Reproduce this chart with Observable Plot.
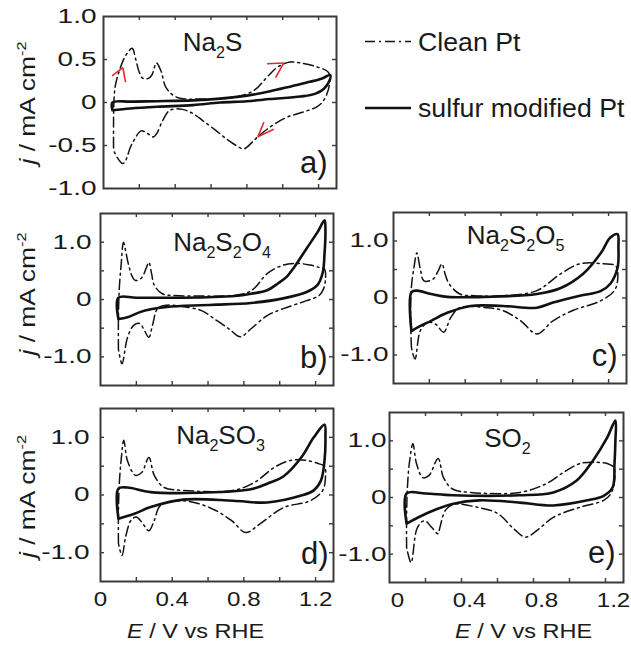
<!DOCTYPE html>
<html>
<head>
<meta charset="utf-8">
<script src="https://cdn.jsdelivr.net/npm/d3@7"></script>
<script src="https://cdn.jsdelivr.net/npm/@observablehq/plot@0.6"></script>
<style>
  body { margin: 0; background: #fff; }
  #fig { position: relative; width: 631px; height: 648px; overflow: hidden; background: #fff;
         font-family: "Liberation Sans", Arial, sans-serif; color: #1a1a1a; }
</style>
</head>
<body>
<div id="fig"></div>
<script>
// ---------------- data ----------------
const xTicks = [0.2, 0.4, 0.6, 0.8, 1.0, 1.2];
const xTickLabels = [0, 0.4, 0.8, 1.2];
const yTicksA = [-0.5, 0, 0.5];
const yLabelsA = [-1, -0.5, 0, 0.5, 1];
const yTicksB = [-1, -0.5, 0, 0.5, 1];
const yLabelsB = [-1, 0, 1];
const seriesNames = ["Clean Pt", "sulfur modified Pt"];
const panelTitles = ["Na_{2}S", "Na_{2}S_{2}O_{4}", "Na_{2}S_{2}O_{5}", "Na_{2}SO_{3}", "SO_{2}"];
const panelLetters = ["a)", "b)", "c)", "d)", "e)"];
const xTitle = "*E* / V vs RHE";
const yTitle = "*j* / mA cm^{-2}";

// panel a (Na2S) [E, j]
const cleanA = [[0.056,-0.52],[0.056,-0.25],[0.058,0.0],[0.064,0.17],[0.078,0.30],[0.11,0.49],[0.135,0.58],[0.16,0.63],[0.18,0.50],[0.20,0.35],[0.22,0.28],[0.25,0.28],[0.27,0.32],[0.295,0.46],[0.32,0.37],[0.35,0.17],[0.41,0.06],[0.54,0.04],[0.73,0.06],[0.84,0.14],[0.91,0.29],[0.97,0.41],[1.04,0.47],[1.10,0.46],[1.18,0.42],[1.255,0.35],[1.26,0.2],[1.23,0.03],[1.19,-0.05],[1.10,-0.12],[1.025,-0.17],[0.94,-0.27],[0.86,-0.40],[0.80,-0.52],[0.78,-0.54],[0.74,-0.50],[0.69,-0.43],[0.63,-0.33],[0.56,-0.22],[0.50,-0.13],[0.44,-0.08],[0.37,-0.09],[0.33,-0.21],[0.30,-0.35],[0.28,-0.40],[0.245,-0.36],[0.21,-0.33],[0.17,-0.44],[0.15,-0.52],[0.12,-0.69],[0.106,-0.71],[0.08,-0.65],[0.06,-0.57],[0.056,-0.52]];
const sulfA = [[0.05,-0.09],[0.05,0.0],[0.15,0.01],[0.3,0.015],[0.5,0.025],[0.65,0.045],[0.8,0.08],[0.93,0.13],[1.05,0.19],[1.15,0.24],[1.22,0.28],[1.265,0.32],[1.26,0.25],[1.23,0.16],[1.18,0.1],[1.1,0.07],[0.93,0.04],[0.8,0.015],[0.65,0.0],[0.5,-0.03],[0.3,-0.05],[0.15,-0.07],[0.05,-0.09]];
const arrowTipsA = [[0.108,0.406],[1.006,0.46],[0.861,-0.40]];
const arrowLegEndsA = [[[0.048,0.31],[0.123,0.236]],[[0.913,0.45],[0.96,0.29]],[[0.95,-0.31],[0.895,-0.23]]];

// panel b (Na2S2O4)
const cleanB = [[0.10,-0.87],[0.10,-0.3],[0.105,0.2],[0.115,0.6],[0.128,1.0],[0.14,0.85],[0.157,0.6],[0.18,0.38],[0.195,0.33],[0.23,0.38],[0.255,0.55],[0.27,0.65],[0.285,0.45],[0.30,0.25],[0.345,0.10],[0.41,0.07],[0.55,0.06],[0.74,0.07],[0.82,0.12],[0.86,0.20],[0.93,0.45],[1.02,0.60],[1.10,0.63],[1.17,0.60],[1.22,0.56],[1.25,0.53],[1.255,0.35],[1.245,0.19],[1.22,0.07],[1.15,-0.02],[1.02,-0.16],[0.93,-0.28],[0.84,-0.51],[0.78,-0.65],[0.72,-0.52],[0.65,-0.37],[0.56,-0.19],[0.45,-0.12],[0.37,-0.10],[0.32,-0.15],[0.29,-0.45],[0.27,-0.66],[0.24,-0.51],[0.22,-0.42],[0.185,-0.45],[0.15,-0.67],[0.12,-1.12],[0.10,-0.87]];
const sulfB = [[0.10,-0.34],[0.10,0.03],[0.2,0.03],[0.4,0.03],[0.6,0.04],[0.75,0.06],[0.84,0.10],[0.93,0.16],[0.99,0.28],[1.04,0.40],[1.08,0.56],[1.15,0.89],[1.21,1.17],[1.25,1.38],[1.255,1.2],[1.25,0.8],[1.24,0.47],[1.21,0.25],[1.15,0.13],[1.02,0.02],[0.84,-0.06],[0.65,-0.09],[0.56,-0.10],[0.37,-0.13],[0.28,-0.17],[0.22,-0.22],[0.15,-0.31],[0.10,-0.34]];

// panel c (Na2S2O5)
const cleanC = [[0.10,-0.87],[0.095,-0.3],[0.10,0.2],[0.115,0.55],[0.13,0.79],[0.15,0.5],[0.17,0.30],[0.22,0.33],[0.25,0.48],[0.27,0.60],[0.29,0.40],[0.31,0.25],[0.37,0.07],[0.45,0.04],[0.61,0.04],[0.80,0.13],[0.93,0.42],[1.04,0.60],[1.17,0.60],[1.24,0.56],[1.25,0.3],[1.23,0.12],[1.155,-0.05],[1.0,-0.22],[0.89,-0.40],[0.80,-0.63],[0.71,-0.40],[0.61,-0.22],[0.52,-0.17],[0.37,-0.17],[0.32,-0.34],[0.28,-0.60],[0.235,-0.46],[0.19,-0.43],[0.15,-0.57],[0.12,-1.07],[0.10,-0.87]];
const sulfC = [[0.10,-0.58],[0.10,0.10],[0.13,0.13],[0.21,0.07],[0.30,0.02],[0.52,0.02],[0.80,0.07],[0.93,0.17],[1.06,0.43],[1.155,0.78],[1.21,1.06],[1.25,1.12],[1.255,0.9],[1.25,0.53],[1.21,0.25],[1.155,0.12],[1.04,0.04],[0.89,-0.08],[0.80,-0.17],[0.61,-0.14],[0.43,-0.14],[0.30,-0.26],[0.21,-0.40],[0.15,-0.49],[0.10,-0.58]];

// panel d (Na2SO3)
const cleanD = [[0.10,-0.84],[0.10,-0.3],[0.105,0.2],[0.115,0.6],[0.13,0.95],[0.15,0.6],[0.195,0.34],[0.23,0.39],[0.27,0.65],[0.30,0.34],[0.355,0.13],[0.46,0.08],[0.74,0.08],[0.86,0.22],[0.97,0.48],[1.06,0.60],[1.15,0.60],[1.22,0.54],[1.25,0.50],[1.255,0.3],[1.24,0.08],[1.17,-0.10],[1.02,-0.22],[0.89,-0.50],[0.81,-0.65],[0.73,-0.44],[0.61,-0.22],[0.46,-0.10],[0.335,-0.18],[0.30,-0.44],[0.27,-0.62],[0.23,-0.47],[0.20,-0.38],[0.17,-0.44],[0.14,-0.73],[0.12,-1.05],[0.10,-0.84]];
const sulfD = [[0.10,-0.41],[0.10,0.11],[0.15,0.13],[0.28,0.05],[0.56,0.04],[0.84,0.10],[0.95,0.22],[1.02,0.32],[1.12,0.65],[1.19,1.0],[1.25,1.22],[1.255,1.0],[1.25,0.6],[1.23,0.25],[1.19,0.08],[1.12,-0.01],[0.93,-0.13],[0.74,-0.10],[0.46,-0.08],[0.28,-0.21],[0.185,-0.33],[0.10,-0.41]];

// panel e (SO2)
const cleanE = [[0.095,-0.88],[0.095,-0.3],[0.10,0.2],[0.11,0.6],[0.13,0.95],[0.15,0.6],[0.185,0.35],[0.22,0.39],[0.27,0.69],[0.30,0.35],[0.35,0.15],[0.45,0.09],[0.725,0.09],[0.875,0.25],[0.97,0.45],[1.06,0.60],[1.155,0.62],[1.21,0.60],[1.245,0.53],[1.25,0.3],[1.23,0.07],[1.19,-0.05],[1.06,-0.17],[0.91,-0.35],[0.82,-0.58],[0.755,-0.70],[0.69,-0.55],[0.60,-0.28],[0.485,-0.17],[0.355,-0.12],[0.31,-0.23],[0.28,-0.53],[0.27,-0.64],[0.235,-0.53],[0.195,-0.41],[0.155,-0.53],[0.12,-1.15],[0.095,-0.88]];
const sulfE = [[0.095,-0.46],[0.095,0.07],[0.2,0.07],[0.35,0.04],[0.72,0.04],[0.91,0.09],[1.04,0.30],[1.13,0.65],[1.21,1.06],[1.255,1.36],[1.255,1.0],[1.25,0.6],[1.24,0.18],[1.19,0.03],[1.10,-0.05],[0.91,-0.14],[0.725,-0.09],[0.50,-0.05],[0.355,-0.11],[0.22,-0.26],[0.095,-0.46]];

// ---------------- drawing ----------------
const FONT = '"Liberation Sans", Arial, sans-serif';
const INK = "#111";
const FRAME = "#3a3a3a";
const RED = "#e3262d";
const DASHDOT = "10,4,2,4";
const fig = document.getElementById("fig");

const fmt = d => d === 0 ? "0" : d.toFixed(1);

function stretchX(node, sx) {
  const tr = node.getAttribute("transform") || "";
  const x = parseFloat(node.getAttribute("x")) || 0;
  node.setAttribute("transform", `${tr} translate(${x},0) scale(${sx},1) translate(${-x},0)`);
}

function richify(t, base) {
  const s = t.textContent;
  while (t.firstChild) t.removeChild(t.firstChild);
  const re = /(_\{[^}]*\}|\^\{[^}]*\}|\*[^*]*\*)/;
  let shift = 0;
  for (const part of s.split(re)) {
    if (!part) continue;
    const ts = document.createElementNS("http://www.w3.org/2000/svg", "tspan");
    let target = 0, txt = part;
    if (part.startsWith("_{")) { target = base * 0.28; txt = part.slice(2, -1); ts.setAttribute("font-size", base * 0.62); }
    else if (part.startsWith("^{")) { target = -base * 0.4; txt = part.slice(2, -1); ts.setAttribute("font-size", base * 0.62); }
    else if (part.startsWith("*")) { txt = part.slice(1, -1); ts.setAttribute("font-style", "italic"); }
    if (target !== shift) { ts.setAttribute("dy", target - shift); shift = target; }
    ts.textContent = txt;
    t.appendChild(ts);
  }
}

function makePanel(p) {
  const pw = p.width - p.mL - p.mR, ph = p.height - p.mT - p.mB;
  const TL = 4;
  const tk = {stroke: FRAME, strokeWidth: 1.4};
  const marks = [
    Plot.ruleX(xTicks, {x: d => d, insetTop: ph - TL, ...tk}),
    Plot.ruleX(xTicks, {x: d => d, insetBottom: ph - TL, ...tk}),
    Plot.ruleY(p.yTicks, {y: d => d, insetRight: pw - TL, ...tk}),
    Plot.ruleY(p.yTicks, {y: d => d, insetLeft: pw - TL, ...tk}),
    Plot.line(p.clean, {x: d => d[0], y: d => d[1], curve: "catmull-rom", stroke: INK, strokeWidth: 1.5, strokeDasharray: DASHDOT}),
    Plot.line(p.sulf, {x: d => d[0], y: d => d[1], curve: "catmull-rom", stroke: INK, strokeWidth: 2.6}),
    Plot.frame({stroke: FRAME, strokeWidth: 2}),
    Plot.axisY({ticks: p.yLabels, tickSize: 0, tickPadding: p.yPad, tickFormat: fmt, fontSize: 20, label: null, fill: "#1a1a1a"}),
    Plot.text([p.title], {text: d => d, frameAnchor: "top", textAnchor: "middle", lineAnchor: "top",
      dx: p.titleDx, dy: p.titleDy, fontSize: 26, fill: "#1a1a1a"}),
    Plot.text([p.letter], {text: d => d, frameAnchor: "bottom-right", textAnchor: "end", lineAnchor: "top",
      dx: p.letterDx, dy: p.letterDy, fontSize: 31, fill: "#1a1a1a"})
  ];
  if (p.arrows) {
    const links = [];
    p.arrows.tips.forEach((tip, i) => p.arrows.legs[i].forEach(e => links.push({x1: tip[0], y1: tip[1], x2: e[0], y2: e[1]})));
    marks.push(Plot.link(links, {x1: "x1", y1: "y1", x2: "x2", y2: "y2", stroke: RED, strokeWidth: 1.6}));
  }
  if (p.yTitle) {
    marks.push(Plot.text([yTitle], {text: d => d, frameAnchor: "left", rotate: -90, textAnchor: "middle", lineAnchor: "middle",
      dx: p.yTitleDx, dy: p.yTitleDy, fontSize: 22, fill: "#1a1a1a"}));
  }
  if (p.xLabels) {
    marks.push(Plot.axisX({ticks: xTickLabels, tickSize: 0, tickPadding: 10, tickFormat: fmt, fontSize: 21, label: null, dx: p.xdx, fill: "#1a1a1a"}));
    marks.push(Plot.text([xTitle], {text: d => d, frameAnchor: "bottom", textAnchor: "middle", lineAnchor: "middle",
      dx: p.xTitleDx, dy: p.xTitleDy, fontSize: 21, fill: "#1a1a1a"}));
  }
  const svg = Plot.plot({
    width: p.width, height: p.height,
    marginLeft: p.mL, marginRight: p.mR, marginTop: p.mT, marginBottom: p.mB,
    x: {domain: [0, 1.3], ...(p.xLabels ? {} : {axis: null})},
    y: {domain: p.yDomain},
    style: {fontFamily: FONT, background: "transparent", overflow: "visible", position: "absolute",
            left: p.left + "px", top: p.top + "px", maxWidth: "none"},
    marks
  });
  svg.querySelectorAll('g[aria-label="y-axis tick label"] text').forEach(t => stretchX(t, 1.4));
  svg.querySelectorAll('g[aria-label="x-axis tick label"] text').forEach(t => stretchX(t, 1.15));
  svg.querySelectorAll("text").forEach(t => {
    const s = t.textContent;
    if (s === p.title) richify(t, 26);
    else if (s === yTitle) { richify(t, 22); stretchX(t, 1.2); }
    else if (s === xTitle) { richify(t, 21); stretchX(t, 1.12); }
  });
  fig.appendChild(svg);
}

makePanel({left: 0, top: 0, width: 345, height: 200, mL: 103, mT: 16, mR: 9, mB: 12,
  yDomain: [-1, 1], yTicks: yTicksA, yLabels: yLabelsA, yPad: 7, clean: cleanA, sulf: sulfA,
  title: panelTitles[0], titleDx: -7.5, titleDy: 16, letter: panelLetters[0], letterDx: -9, letterDy: -38,
  arrows: {tips: arrowTipsA, legs: arrowLegEndsA},
  yTitle: true, yTitleDx: -75.5, yTitleDy: 0.5});

makePanel({left: 0, top: 200, width: 345, height: 195, mL: 100, mT: 13, mR: 12, mB: 10,
  yDomain: [-1.5, 1.5], yTicks: yTicksB, yLabels: yLabelsB, yPad: 9, clean: cleanB, sulf: sulfB,
  title: panelTitles[1], titleDx: 5, titleDy: 19, letter: panelLetters[1], letterDx: -6, letterDy: -40,
  yTitle: true, yTitleDx: -72.5, yTitleDy: -5.5});

makePanel({left: 338, top: 200, width: 293, height: 195, mL: 55, mT: 12, mR: 5, mB: 12,
  yDomain: [-1.5, 1.5], yTicks: yTicksB, yLabels: yLabelsB, yPad: 5, clean: cleanC, sulf: sulfC,
  title: panelTitles[2], titleDx: 5.5, titleDy: 13, letter: panelLetters[2], letterDx: -9, letterDy: -40});

makePanel({left: 0, top: 395, width: 345, height: 253, mL: 100, mT: 13, mR: 12, mB: 67,
  yDomain: [-1.5, 1.5], yTicks: yTicksB, yLabels: yLabelsB, yPad: 11, clean: cleanD, sulf: sulfD,
  title: panelTitles[3], titleDx: 3.5, titleDy: 17, letter: panelLetters[3], letterDx: -5, letterDy: -40,
  yTitle: true, yTitleDx: -72.5, yTitleDy: 1.5,
  xLabels: true, xdx: 0, xTitleDx: -21.5, xTitleDy: 49.5});

makePanel({left: 338, top: 395, width: 293, height: 253, mL: 51, mT: 17, mR: 8, mB: 66,
  yDomain: [-1.5, 1.5], yTicks: yTicksB, yLabels: yLabelsB, yPad: 3, clean: cleanE, sulf: sulfE,
  title: panelTitles[4], titleDx: 1, titleDy: 16, letter: panelLetters[4], letterDx: -8, letterDy: -42,
  xLabels: true, xdx: 8, xTitleDx: 17, xTitleDy: 48.5});

// ---------------- legend ----------------
const leg = d3.create("svg").attr("width", 276).attr("height", 120)
  .style("position", "absolute").style("left", "355px").style("top", "15px").style("overflow", "visible")
  .style("font-family", FONT);
const legRows = [{y: 26.5, dash: DASHDOT, sw: 1.5}, {y: 93, dash: null, sw: 2.6}];
legRows.forEach((r, i) => {
  leg.append("line").attr("x1", 10).attr("x2", 56).attr("y1", r.y).attr("y2", r.y)
    .attr("stroke", INK).attr("stroke-width", r.sw).attr("stroke-dasharray", r.dash);
  leg.append("text").attr("transform", `translate(63,${r.y + 9}) scale(1.07,1)`)
    .attr("font-size", 25).attr("fill", "#1a1a1a").text(seriesNames[i]);
});
fig.appendChild(leg.node());
</script>
</body>
</html>
